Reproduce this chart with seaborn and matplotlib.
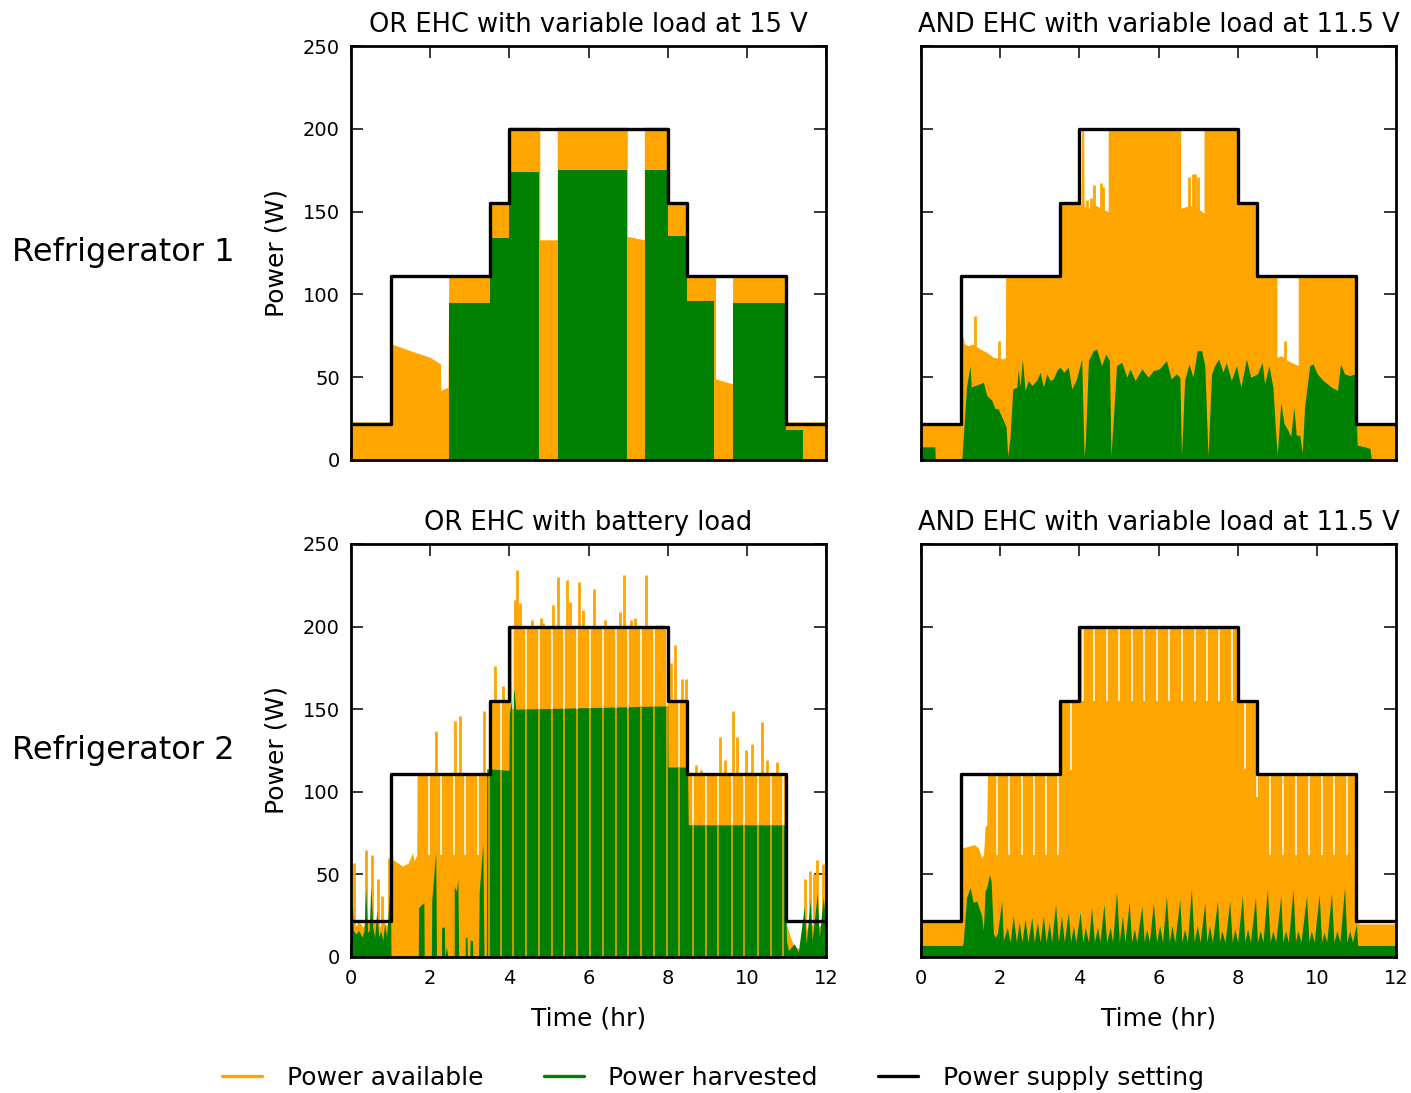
import numpy as np
import matplotlib
matplotlib.use("Agg")
import matplotlib.pyplot as plt
import seaborn as sns
from matplotlib.lines import Line2D

# power supply setting (same for every panel), step-post
supply_t = [0, 1, 3.5, 4, 8, 8.5, 11, 12]
supply_w = [22, 111, 155, 200, 155, 111, 22, 22]

# ---------- Refrigerator 1, OR EHC with variable load at 15 V ----------
avail_a = [(0, 23), (1.0, 23), (1.0, 86), (1.03, 70), (1.5, 66), (2.0, 62), (2.26, 58), (2.27, 42),
           (2.45, 44), (2.47, 112), (3.5, 112), (3.5, 156), (4.0, 156), (4.0, 201), (4.77, 201),
           (4.77, 133), (5.21, 133), (5.21, 201), (6.98, 201), (6.98, 135), (7.41, 133), (7.41, 201),
           (8.0, 201), (8.0, 156), (8.5, 156), (8.5, 112), (9.21, 112), (9.21, 49), (9.64, 46),
           (9.64, 112), (11.0, 112), (11.0, 23), (12, 23)]
harv_a = [(0, 0), (2.47, 0), (2.47, 95), (3.5, 95), (3.5, 134), (4.0, 134), (4.0, 174), (4.76, 174),
          (4.76, 0), (5.22, 0), (5.22, 175), (6.98, 175), (6.98, 0), (7.42, 0), (7.42, 175), (8.0, 175),
          (8.0, 135), (8.5, 135), (8.5, 96), (9.18, 96), (9.18, 0), (9.66, 0), (9.66, 95), (11.0, 95),
          (11.0, 18), (11.41, 18), (11.41, 0), (12, 0)]

# ---------- Refrigerator 1, AND EHC with variable load at 11.5 V ----------
avail_b = [(0, 22), (1.02, 22), (1.03, 77), (1.1, 70), (1.2, 69), (1.3, 70), (1.5, 67), (1.66, 65),
           (1.83, 62), (2.08, 61), (2.13, 62), (2.14, 111), (3.5, 111), (3.5, 155), (4.05, 155),
           (4.06, 200), (4.11, 200), (4.12, 153), (4.25, 152), (4.4, 154), (4.55, 152), (4.73, 150),
           (4.73, 200), (6.56, 200), (6.56, 152), (6.7, 153), (6.85, 154), (7.0, 152), (7.15, 149),
           (7.15, 200), (8.0, 200), (8.0, 155), (8.5, 155), (8.5, 111), (8.99, 111), (8.99, 62),
           (9.1, 63), (9.27, 60), (9.44, 58), (9.53, 57), (9.53, 111), (11.02, 111), (11.02, 22), (12, 22)]
spikes_b = [(1.36, 87), (1.97, 72), (4.19, 157), (4.3, 158), (4.37, 166), (4.54, 167), (4.59, 165),
            (6.78, 171), (6.86, 173), (6.92, 173), (7.01, 171), (9.19, 72)]
harv_b = [(0, 8), (0.35, 8), (0.36, 0), (1.03, 0), (1.15, 44), (1.24, 57), (1.27, 44), (1.36, 45),
          (1.49, 46), (1.575, 47), (1.66, 39), (1.79, 36), (1.87, 31), (1.95, 31), (2.04, 26),
          (2.15, 20), (2.19, 2), (2.25, 14), (2.32, 43), (2.42, 44), (2.46, 55), (2.5, 44), (2.56, 61),
          (2.63, 42), (2.71, 48), (2.8, 45), (2.92, 48), (3.01, 53), (3.09, 44), (3.18, 52), (3.26, 48),
          (3.34, 49), (3.43, 54), (3.51, 56), (3.61, 53), (3.72, 56), (3.81, 43), (3.93, 49), (4.06, 61),
          (4.12, 2), (4.15, 10), (4.23, 60), (4.35, 66), (4.44, 67), (4.56, 57), (4.67, 64), (4.76, 60),
          (4.8, 2), (4.84, 18), (4.94, 57), (5.07, 59), (5.2, 50), (5.28, 55), (5.41, 48), (5.58, 55),
          (5.74, 50), (5.87, 54), (6.02, 55), (6.2, 60), (6.32, 49), (6.45, 52), (6.54, 50), (6.58, 2),
          (6.66, 48), (6.77, 58), (6.87, 50), (6.98, 66), (7.09, 66), (7.17, 57), (7.25, 2), (7.34, 52),
          (7.42, 57), (7.52, 61), (7.63, 53), (7.71, 59), (7.84, 48), (7.97, 57), (8.08, 44), (8.22, 61),
          (8.33, 50), (8.5, 52), (8.62, 59), (8.68, 46), (8.79, 57), (8.89, 44), (8.95, 20), (9.0, 3),
          (9.09, 35), (9.17, 22), (9.27, 18), (9.34, 14), (9.42, 32), (9.48, 15), (9.57, 15), (9.63, 4),
          (9.69, 32), (9.82, 57), (9.9, 58), (10.01, 52), (10.16, 48), (10.37, 44), (10.52, 42),
          (10.6, 58), (10.7, 52), (10.83, 51), (10.96, 52), (11.02, 9), (11.21, 8), (11.34, 7),
          (11.38, 0), (12, 0)]

# ---------- Refrigerator 2, OR EHC with battery load ----------
avail_d = [(0, 22), (0.1, 18), (0.2, 22), (0.3, 18), (0.4, 22), (0.5, 20), (0.6, 22), (0.7, 17),
           (0.8, 22), (0.9, 19), (0.99, 22), (1.0, 60), (1.3, 55), (1.45, 57), (1.55, 63), (1.6, 58),
           (1.66, 62), (1.67, 111), (3.5, 111), (3.5, 155), (4.0, 155), (4.0, 200), (8.0, 200),
           (8.0, 155), (8.5, 155), (8.5, 111), (10.98, 111), (11.0, 20), (11.1, 12), (11.2, 6),
           (11.35, 5), (11.45, 15), (11.6, 20), (11.8, 18), (12, 22)]
spikes_d = [(0.08, 57), (0.38, 65), (0.52, 62), (0.67, 47), (0.79, 37), (0.97, 60), (2.14, 137),
            (2.62, 143), (2.75, 146), (3.37, 149), (3.64, 176), (3.85, 164), (4.14, 216), (4.19, 234),
            (4.27, 214), (4.57, 204), (4.8, 205), (4.86, 202), (5.11, 213), (5.22, 230), (5.45, 228),
            (5.52, 215), (5.76, 227), (5.87, 210), (6.15, 223), (6.42, 204), (6.79, 209), (6.89, 231),
            (7.08, 204), (7.17, 205), (7.45, 231), (7.72, 201), (7.83, 201), (8.08, 178), (8.19, 189),
            (8.36, 168), (8.47, 168), (8.72, 116), (8.85, 113), (9.33, 133), (9.45, 119), (9.66, 149),
            (9.76, 133), (9.99, 125), (10.13, 129), (10.39, 142), (10.51, 119), (10.77, 118),
            (11.46, 47), (11.6, 52), (11.7, 50), (11.78, 59), (11.93, 56)]
harv_d = [(0, 16), (0.03, 34), (0.06, 16), (0.12, 14), (0.2, 16), (0.28, 12), (0.33, 16), (0.37, 42),
          (0.42, 15), (0.46, 16), (0.5, 43), (0.55, 18), (0.6, 12), (0.65, 28), (0.7, 12), (0.75, 16),
          (0.8, 10), (0.85, 20), (0.9, 12), (0.97, 38), (1.0, 30), (1.01, 0), (1.7, 0), (1.71, 30),
          (1.84, 33), (1.85, 0),
          (2.03, 0), (2.04, 34), (2.14, 64), (2.16, 0), (2.28, 0), (2.29, 18), (2.36, 18), (2.37, 0),
          (2.41, 6), (2.45, 0), (2.57, 0), (2.58, 44), (2.66, 40), (2.7, 47), (2.72, 0), (2.86, 0),
          (2.87, 12), (2.93, 12), (2.94, 0), (3.0, 0), (3.01, 10), (3.07, 10), (3.08, 0), (3.22, 0),
          (3.24, 40), (3.33, 69), (3.36, 0), (3.42, 0), (3.43, 114), (3.99, 113), (4.0, 148),
          (4.12, 162), (4.16, 150), (8.0, 152), (8.01, 115), (8.5, 115), (8.52, 80), (10.96, 80),
          (11.0, 10), (11.05, 4), (11.2, 8), (11.3, 3), (11.45, 30), (11.5, 8), (11.6, 34), (11.65, 10),
          (11.78, 39), (11.83, 12), (11.93, 36), (12, 20)]
# periodic drop-outs: (time, level down to which "available" falls); "harvested" falls to 0
gaps_d = [(1.98, 62), (2.27, 62), (2.59, 62), (2.89, 62), (3.2, 62), (3.49, 111), (3.78, 113),
          (4.1, 150), (4.41, 150), (4.75, 150), (5.07, 150), (5.39, 150), (5.72, 150), (6.04, 151),
          (6.36, 151), (6.69, 151), (7.01, 151), (7.33, 152), (7.66, 152), (7.98, 152), (8.29, 115),
          (8.63, 80), (8.96, 80), (9.28, 80), (9.62, 80), (9.94, 80), (10.27, 80), (10.6, 80), (10.92, 80)]

# ---------- Refrigerator 2, AND EHC with variable load at 11.5 V ----------
avail_c = [(0, 21), (1.02, 21), (1.04, 66), (1.2, 67), (1.35, 68), (1.45, 66), (1.53, 60), (1.58, 62),
           (1.62, 79), (1.66, 80), (1.68, 111), (3.5, 111), (3.5, 155), (4.0, 155), (4.0, 200),
           (8.0, 200), (8.0, 155), (8.5, 155), (8.5, 111), (11.0, 111), (11.0, 29), (11.06, 20), (12, 20)]
notches_c = [(1.93, 62), (2.23, 62), (2.54, 62), (2.86, 62), (3.16, 62), (3.47, 62), (3.78, 113),
             (4.08, 155), (4.38, 155), (4.69, 155), (5.01, 155), (5.32, 155), (5.64, 155), (5.95, 155),
             (6.27, 155), (6.59, 155), (6.91, 155), (7.22, 155), (7.54, 155), (7.85, 155), (8.19, 114),
             (8.5, 97), (8.82, 62), (9.14, 62), (9.47, 62), (9.8, 62), (10.12, 62), (10.43, 62), (10.75, 62)]
harv_c = [(0, 7), (1.05, 7), (1.07, 10), (1.15, 36), (1.24, 42), (1.32, 33), (1.41, 34), (1.49, 28),
          (1.53, 25), (1.575, 16), (1.62, 40), (1.66, 42), (1.73, 50), (1.77, 46), (1.83, 14), (1.87, 12),
          (1.93, 14), (2.04, 34), (2.08, 10), (2.18, 18), (2.25, 9), (2.33, 25), (2.41, 9), (2.48, 21),
          (2.55, 9), (2.63, 23), (2.7, 9), (2.8, 24), (2.86, 9), (2.94, 21), (3.01, 9), (3.09, 25),
          (3.16, 9), (3.24, 21), (3.3, 9), (3.4, 32), (3.47, 9), (3.55, 25), (3.62, 9), (3.72, 27),
          (3.78, 9), (3.85, 19), (3.91, 9), (4.02, 27), (4.09, 9), (4.15, 18), (4.23, 9), (4.31, 30),
          (4.38, 9), (4.46, 18), (4.52, 9), (4.62, 32), (4.69, 9), (4.78, 18), (4.84, 9), (4.94, 40),
          (5.01, 9), (5.09, 25), (5.15, 9), (5.26, 33), (5.32, 9), (5.39, 17), (5.45, 9), (5.58, 31),
          (5.64, 9), (5.7, 17), (5.77, 9), (5.87, 33), (5.95, 9), (6.03, 19), (6.1, 9), (6.2, 37),
          (6.27, 9), (6.34, 19), (6.41, 9), (6.54, 35), (6.59, 9), (6.66, 17), (6.73, 9), (6.83, 41),
          (6.9, 9), (6.98, 19), (7.05, 9), (7.17, 33), (7.22, 9), (7.29, 19), (7.36, 9), (7.49, 34),
          (7.54, 9), (7.6, 16), (7.68, 9), (7.8, 34), (7.86, 9), (7.93, 17), (8.0, 9), (8.12, 37),
          (8.18, 9), (8.25, 17), (8.32, 9), (8.45, 36), (8.5, 9), (8.57, 16), (8.64, 9), (8.75, 41),
          (8.82, 9), (8.89, 16), (8.96, 9), (9.09, 37), (9.14, 9), (9.21, 16), (9.28, 9), (9.4, 41),
          (9.46, 9), (9.52, 16), (9.6, 9), (9.74, 37), (9.8, 9), (9.86, 16), (9.93, 9), (10.06, 38),
          (10.12, 9), (10.18, 15), (10.25, 9), (10.37, 39), (10.43, 9), (10.51, 16), (10.58, 9),
          (10.7, 42), (10.76, 9), (10.83, 16), (10.9, 9), (11.0, 20), (11.03, 7), (12, 7)]

titles = ["OR EHC with variable load at 15 V", "AND EHC with variable load at 11.5 V",
          "OR EHC with battery load", "AND EHC with variable load at 11.5 V"]
row_labels = ["Refrigerator 1", "Refrigerator 2"]
legend_labels = ["Power available", "Power harvested", "Power supply setting"]

ORANGE = "#FFA500"
GREEN = "#008000"

sns.set_style("ticks")
plt.rcParams["font.family"] = ["DejaVu Sans"]
plt.rcParams.update({
    "text.color": "black", "axes.labelcolor": "black",
    "xtick.color": "black", "ytick.color": "black",
    "xtick.direction": "in", "ytick.direction": "in",
    "xtick.top": True, "ytick.right": True,
    "xtick.major.size": 8.5, "ytick.major.size": 8.5,
    "xtick.major.width": 1.1, "ytick.major.width": 1.1,
    "xtick.major.pad": 9, "ytick.major.pad": 8,
    "xtick.labelsize": 14, "ytick.labelsize": 14,
    "axes.linewidth": 2, "axes.edgecolor": "black",
})


def step_level(t):
    idx = np.searchsorted(supply_t, t, side="right") - 1
    return np.array(supply_w)[idx]


def fill_series(ax, pts, color, z):
    t, w = np.array(pts, dtype=float).T
    ax.fill_between(t, 0, w, color=color, lw=0, zorder=z)


def draw_spikes(ax, spikes, color, z):
    st, sw = np.array(spikes, dtype=float).T
    ax.vlines(st, 0, sw, color=color, lw=2.0, zorder=z)


fig = plt.figure(figsize=(14.11, 10.93), dpi=100)
W, H = 1411, 1093
boxes = [(351, 46, 826, 460), (921, 46, 1396, 460), (351, 544, 826, 957), (921, 544, 1396, 957)]
axes = []
for (x0, y0, x1, y1) in boxes:
    axes.append(fig.add_axes([x0 / W, 1 - y1 / H, (x1 - x0) / W, (y1 - y0) / H]))
ax_a, ax_b, ax_d, ax_c = axes

# layering: available (1) < its spikes (1.1) < harvested (1.5) < drop-outs (1.6) < setting (3)
# panel A
fill_series(ax_a, avail_a, ORANGE, 1)
fill_series(ax_a, harv_a, GREEN, 1.5)

# panel B
fill_series(ax_b, avail_b, ORANGE, 1)
draw_spikes(ax_b, spikes_b, ORANGE, 1.1)
fill_series(ax_b, harv_b, GREEN, 1.5)

# panel D (battery)
fill_series(ax_d, avail_d, ORANGE, 1)
draw_spikes(ax_d, spikes_d, ORANGE, 1.1)
fill_series(ax_d, harv_d, GREEN, 1.5)
gt, gw = np.array(gaps_d, dtype=float).T
ax_d.vlines(gt, 0, gw, color=ORANGE, lw=1.1, zorder=1.6)
ax_d.vlines(gt, gw, step_level(gt), color="white", lw=1.1, zorder=1.6)

# panel C
fill_series(ax_c, avail_c, ORANGE, 1)
nt, nw = np.array(notches_c, dtype=float).T
ax_c.vlines(nt, nw, step_level(nt), color="white", lw=1.1, zorder=1.2)
fill_series(ax_c, harv_c, GREEN, 1.5)

for i, ax in enumerate(axes):
    sns.lineplot(x=supply_t, y=supply_w, ax=ax, color="black", lw=2.4, zorder=3,
                 drawstyle="steps-post", estimator=None, sort=False)
    ax.set_xlim(0, 12)
    ax.set_ylim(0, 250)
    ax.set_xticks(range(0, 13, 2))
    ax.set_yticks(range(0, 251, 50))
    ax.set_title(titles[i], fontsize=18.5, pad=10)
    for s in ax.spines.values():
        s.set_visible(True)
        s.set_zorder(5)
    if i < 2:
        ax.set_xticklabels([])
    else:
        ax.set_xlabel("Time (hr)", fontsize=18, labelpad=13)
    if i % 2 == 1:
        ax.set_yticklabels([])
    else:
        ax.set_ylabel("Power (W)", fontsize=18, labelpad=10)

fig.text(12 / W, 1 - 252 / H, row_labels[0], fontsize=23, ha="left", va="center")
fig.text(12 / W, 1 - 750 / H, row_labels[1], fontsize=23, ha="left", va="center")

handles = [Line2D([], [], color=ORANGE, lw=2.4), Line2D([], [], color=GREEN, lw=2.4),
           Line2D([], [], color="black", lw=2.4)]
fig.legend(handles, legend_labels, loc="center", bbox_to_anchor=(713 / W, 1 - 1078 / H), ncol=3,
           frameon=False, fontsize=18, handlelength=1.6, handletextpad=1.0, columnspacing=2.4)

fig.savefig("out.png", dpi=100)
